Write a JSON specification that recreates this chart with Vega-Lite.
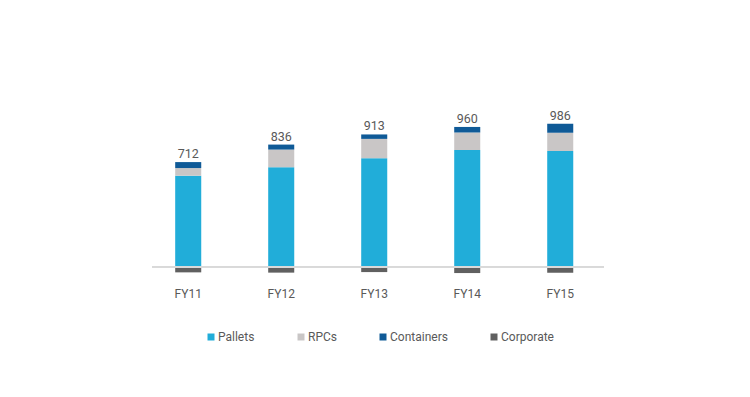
{
  "$schema": "https://vega.github.io/schema/vega-lite/v6.json",
  "autosize": "none",
  "width": 452,
  "height": 175,
  "padding": {"left": 152, "top": 100, "right": 146, "bottom": 122},
  "background": "#ffffff",
  "config": {
    "view": {"stroke": null},
    "font": "Roboto",
    "text": {"font": "Roboto"}
  },
  "data": {
    "values": [
      {"year": "FY11", "segment": "Pallets", "value": 655},
      {"year": "FY11", "segment": "RPCs", "value": 55},
      {"year": "FY11", "segment": "Containers", "value": 43},
      {"year": "FY11", "segment": "Corporate", "value": -41},
      {"year": "FY12", "segment": "Pallets", "value": 716},
      {"year": "FY12", "segment": "RPCs", "value": 127},
      {"year": "FY12", "segment": "Containers", "value": 36},
      {"year": "FY12", "segment": "Corporate", "value": -43},
      {"year": "FY13", "segment": "Pallets", "value": 781},
      {"year": "FY13", "segment": "RPCs", "value": 139},
      {"year": "FY13", "segment": "Containers", "value": 32},
      {"year": "FY13", "segment": "Corporate", "value": -39},
      {"year": "FY14", "segment": "Pallets", "value": 840},
      {"year": "FY14", "segment": "RPCs", "value": 126},
      {"year": "FY14", "segment": "Containers", "value": 40},
      {"year": "FY14", "segment": "Corporate", "value": -46},
      {"year": "FY15", "segment": "Pallets", "value": 832},
      {"year": "FY15", "segment": "RPCs", "value": 132},
      {"year": "FY15", "segment": "Containers", "value": 65},
      {"year": "FY15", "segment": "Corporate", "value": -43}
    ]
  },
  "encoding": {
    "x": {
      "field": "year",
      "type": "nominal",
      "title": null,
      "scale": {"paddingInner": 0.72, "paddingOuter": 0.29, "align": 0.43},
      "axis": {
        "domain": false,
        "ticks": false,
        "labelAngle": 0,
        "labelPadding": 13,
        "labelFontSize": 12,
        "labelColor": "#595959",
        "labelFont": "Roboto"
      }
    }
  },
  "layer": [
    {
      "transform": [
        {"calculate": "indexof(['Pallets','RPCs','Containers','Corporate'], datum.segment)", "as": "rank"}
      ],
      "mark": {"type": "bar"},
      "encoding": {
        "y": {
          "field": "value",
          "type": "quantitative",
          "stack": "zero",
          "scale": {"domain": [-60, 1200], "nice": false},
          "axis": null
        },
        "color": {
          "field": "segment",
          "type": "nominal",
          "scale": {
            "domain": ["Pallets", "RPCs", "Containers", "Corporate"],
            "range": ["#21ADD9", "#C9C6C6", "#0F5A97", "#606060"]
          },
          "legend": {
            "title": null,
            "orient": "none",
            "legendX": 53,
            "legendY": 231,
            "direction": "horizontal",
            "columns": 4,
            "columnPadding": 40,
            "symbolType": "square",
            "symbolSize": 49,
            "symbolStrokeWidth": 0,
            "labelOffset": 1,
            "labelFontSize": 12,
            "labelColor": "#595959",
            "labelFont": "Roboto"
          }
        },
        "order": {"field": "rank", "type": "quantitative"}
      }
    },
    {
      "mark": {"type": "rule", "color": "#d9d9d9", "strokeWidth": 1.5},
      "encoding": {"y": {"datum": 0, "type": "quantitative"}, "x": null}
    },
    {
      "transform": [
        {"joinaggregate": [{"op": "sum", "field": "value", "as": "total"}], "groupby": ["year"]},
        {"filter": "datum.value > 0"},
        {"aggregate": [{"op": "sum", "field": "value", "as": "top"}, {"op": "max", "field": "total", "as": "total"}], "groupby": ["year"]}
      ],
      "mark": {"type": "text", "baseline": "alphabetic", "dy": -4, "fontSize": 12.5, "color": "#595959", "font": "Roboto"},
      "encoding": {
        "y": {"field": "top", "type": "quantitative"},
        "text": {"field": "total", "type": "quantitative"}
      }
    }
  ]
}
